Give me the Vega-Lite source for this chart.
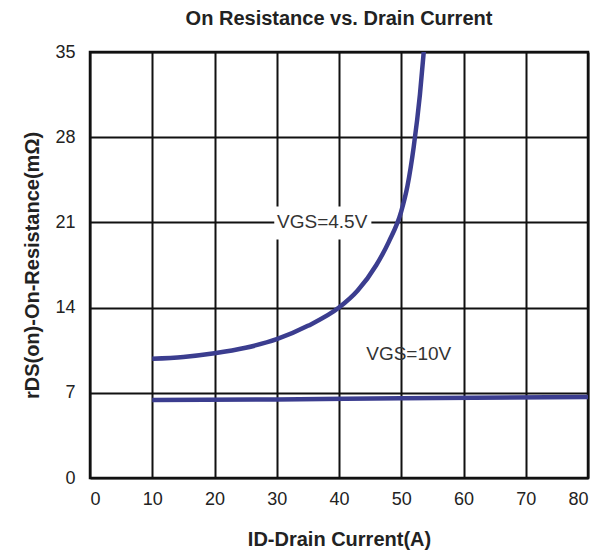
{
  "$schema": "https://vega.github.io/schema/vega-lite/v6.json",
  "autosize": {"type": "none"},
  "padding": {"left": 90, "top": 52, "right": 10, "bottom": 76},
  "width": 498,
  "height": 426,
  "background": "white",
  "title": {"text": "On Resistance vs. Drain Current", "font": "Liberation Sans", "fontSize": 20, "fontWeight": "bold", "color": "#222", "anchor": "middle", "offset": 14},
  "config": {
    "view": {"stroke": "#111", "strokeWidth": 2.5},
    "axis": {"labelFont": "Liberation Sans", "labelFontSize": 18, "labelColor": "#222", "titleFont": "Liberation Sans", "titleFontSize": 20, "titleFontWeight": "bold", "titleColor": "#222", "grid": true, "gridColor": "#111", "gridWidth": 2, "gridOpacity": 1, "ticks": false, "domain": false}
  },
  "datasets": {
    "curves": [
      {"id": 10, "r": 9.8, "s": "4.5V"},
      {"id": 15, "r": 9.95, "s": "4.5V"},
      {"id": 20, "r": 10.25, "s": "4.5V"},
      {"id": 25, "r": 10.7, "s": "4.5V"},
      {"id": 30, "r": 11.4, "s": "4.5V"},
      {"id": 35, "r": 12.5, "s": "4.5V"},
      {"id": 40, "r": 14.0, "s": "4.5V"},
      {"id": 43, "r": 15.4, "s": "4.5V"},
      {"id": 46, "r": 17.5, "s": "4.5V"},
      {"id": 48, "r": 19.4, "s": "4.5V"},
      {"id": 50, "r": 21.9, "s": "4.5V"},
      {"id": 51, "r": 24.0, "s": "4.5V"},
      {"id": 52, "r": 27.2, "s": "4.5V"},
      {"id": 53, "r": 31.5, "s": "4.5V"},
      {"id": 53.7, "r": 35.5, "s": "4.5V"},
      {"id": 10, "r": 6.4, "s": "10V"},
      {"id": 30, "r": 6.45, "s": "10V"},
      {"id": 50, "r": 6.55, "s": "10V"},
      {"id": 80, "r": 6.65, "s": "10V"}
    ],
    "labels": [
      {"x": 37.3, "y": 21, "x1": 29.6, "x2": 45.2, "y1": 19.6, "y2": 22.3, "t": "VGS=4.5V"},
      {"x": 51.2, "y": 10.2, "x1": null, "x2": null, "y1": null, "y2": null, "t": "VGS=10V"}
    ]
  },
  "layer": [
    {
      "data": {"name": "curves"},
      "mark": {"type": "line", "color": "#3b3d8f", "strokeWidth": 4.5, "interpolate": "monotone", "clip": true},
      "encoding": {
        "x": {"field": "id", "type": "quantitative", "scale": {"domain": [0, 80], "nice": false}, "axis": {"values": [0,10,20,30,40,50,60,70,80], "title": "ID-Drain Current(A)", "labelPadding": 12, "titlePadding": 21}},
        "y": {"field": "r", "type": "quantitative", "scale": {"domain": [0, 35], "nice": false}, "axis": {"values": [0,7,14,21,28,35], "title": "rDS(on)-On-Resistance(mΩ)", "labelPadding": 15, "titlePadding": 12}},
        "detail": {"field": "s"}
      }
    },
    {
      "data": {"name": "labels"},
      "transform": [{"filter": "datum.x1 != null"}],
      "mark": {"type": "rect", "color": "white"},
      "encoding": {
        "x": {"field": "x1", "type": "quantitative"},
        "x2": {"field": "x2"},
        "y": {"field": "y1", "type": "quantitative"},
        "y2": {"field": "y2"}
      }
    },
    {
      "data": {"name": "labels"},
      "mark": {"type": "text", "font": "Liberation Sans", "fontSize": 19, "color": "#333", "align": "center", "baseline": "middle"},
      "encoding": {
        "x": {"field": "x", "type": "quantitative"},
        "y": {"field": "y", "type": "quantitative"},
        "text": {"field": "t"}
      }
    }
  ]
}
